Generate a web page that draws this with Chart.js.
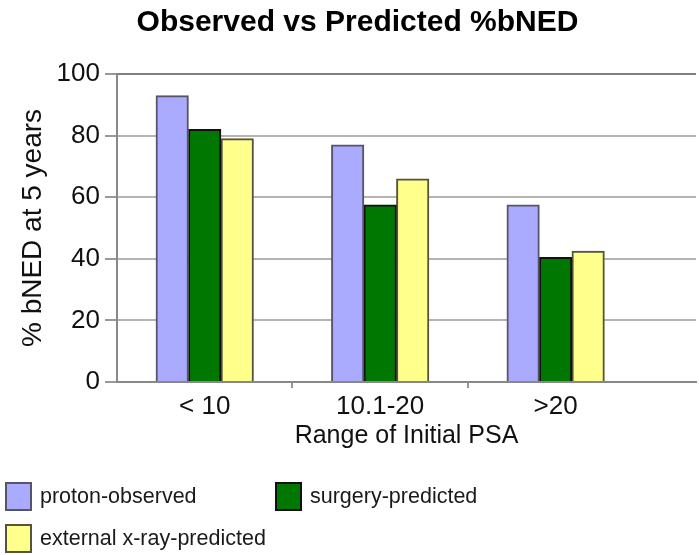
<!DOCTYPE html>
<html>
<head>
<meta charset="utf-8">
<script src="https://cdn.jsdelivr.net/npm/chart.js@4/dist/chart.umd.min.js"></script>
<style>
html, body { margin: 0; padding: 0; background: #fff; }
#wrap { position: relative; width: 699px; height: 555px; overflow: hidden; font-family: "Liberation Sans", Arial, sans-serif; }
#c { position: absolute; left: 0; top: 0; }
#legend { position: absolute; left: 5px; top: 475px; display: grid; grid-template-columns: 270px auto; grid-auto-rows: 42px; }
.item { display: flex; align-items: center; font-size: 21.5px; color: #1a1a1a; white-space: nowrap; }
.swatch { display: inline-block; width: 27px; height: 29px; box-sizing: border-box; border: 2px solid #555; margin-right: 8px; }
</style>
</head>
<body>
<div id="wrap">
  <canvas id="c" width="699" height="555"></canvas>
  <div id="legend"></div>
</div>
<script>
// ---- data ----
const categories = ['< 10', '10.1-20', '>20'];
const protonObserved = [93, 77, 57.5];
const surgeryPredicted = [82, 57.5, 40.5];
const xrayPredicted = [79, 66, 42.5];
const seriesNames = ['proton-observed', 'surgery-predicted', 'external x-ray-predicted'];
const yTickLabels = [0, 20, 40, 60, 80, 100];

const toPoints = vals => vals.map((v, i) => ({ x: i + 1, y: v }));
const isWhole = v => Math.abs(v - Math.round(v)) < 1e-6;
const isHalf = v => !isWhole(v) && Math.abs(v * 2 - Math.round(v * 2)) < 1e-6;

Chart.defaults.font.family = '"Liberation Sans", Arial, sans-serif';
Chart.defaults.color = '#111';

const datasets = [
  { label: seriesNames[0], data: toPoints(protonObserved), backgroundColor: '#aaaaff', borderColor: '#55556a' },
  { label: seriesNames[1], data: toPoints(surgeryPredicted), backgroundColor: '#007700', borderColor: '#111111' },
  { label: seriesNames[2], data: toPoints(xrayPredicted), backgroundColor: '#ffff8c', borderColor: '#55553a' }
].map(d => Object.assign(d, { borderWidth: 2, barThickness: 'flex', categoryPercentage: 0.556, barPercentage: 1.0 }));

const chart = new Chart(document.getElementById('c'), {
  type: 'bar',
  data: { datasets },
  options: {
    responsive: false,
    animation: false,
    layout: { padding: { left: 16, right: 0, top: 0, bottom: 100 } },
    plugins: {
      legend: { display: false },
      tooltip: { enabled: false },
      title: {
        display: true,
        text: 'Observed vs Predicted %bNED',
        color: '#000',
        font: { size: 30, weight: 'bold' },
        padding: { top: 5, bottom: 33 }
      }
    },
    scales: {
      x: {
        type: 'linear',
        offset: false,
        min: 0.5,
        max: 3.8,
        ticks: {
          stepSize: 0.5,
          autoSkip: false,
          maxRotation: 0,
          padding: 3,
          font: { size: 26 },
          color: '#111',
          callback: v => (isWhole(v) && v >= 1 && v <= categories.length) ? categories[Math.round(v) - 1] : ''
        },
        grid: {
          offset: false,
          drawOnChartArea: false,
          tickLength: 6,
          lineWidth: 2,
          tickColor: ctx => (ctx.tick && isHalf(ctx.tick.value) && ctx.tick.value > 0.6) ? '#999' : 'rgba(0,0,0,0)'
        },
        border: { color: '#888', width: 2 },
        title: { display: true, text: 'Range of Initial PSA', font: { size: 25 }, color: '#111', padding: { top: 0, bottom: 4 } },
        afterFit: s => { s.height = 73; }
      },
      y: {
        min: 0,
        max: 100,
        ticks: {
          stepSize: 10,
          padding: 5,
          font: { size: 26 },
          color: '#111',
          callback: v => yTickLabels.includes(v) ? String(v) : ''
        },
        grid: {
          tickLength: 12,
          lineWidth: 2,
          color: ctx => {
            const v = ctx.tick ? ctx.tick.value : 0;
            if (!yTickLabels.includes(v) || v === 0) return 'rgba(0,0,0,0)';
            return v === 100 ? '#808080' : '#b4b4b4';
          },
          tickColor: '#999'
        },
        border: { color: '#888', width: 2 },
        title: { display: true, text: '% bNED at 5 years', font: { size: 28 }, color: '#111', padding: { top: 0, bottom: 0 } },
        afterFit: s => { s.width = 101; }
      }
    }
  }
});

// HTML legend built from the chart's datasets
const legend = document.getElementById('legend');
chart.data.datasets.forEach(ds => {
  const item = document.createElement('div');
  item.className = 'item';
  const sw = document.createElement('span');
  sw.className = 'swatch';
  sw.style.background = ds.backgroundColor;
  sw.style.borderColor = ds.borderColor;
  const tx = document.createElement('span');
  tx.textContent = ds.label;
  item.appendChild(sw);
  item.appendChild(tx);
  legend.appendChild(item);
});
</script>
</body>
</html>
